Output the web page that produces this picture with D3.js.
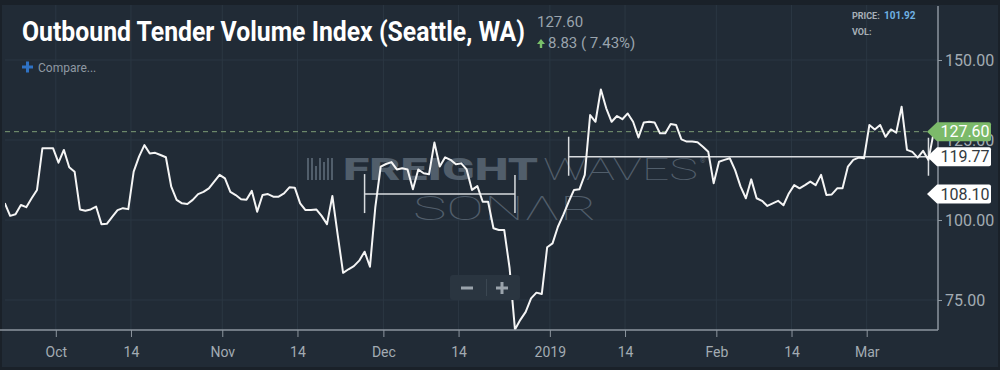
<!DOCTYPE html>
<html>
<head>
<meta charset="utf-8">
<script src="https://cdn.jsdelivr.net/npm/d3@7"></script>
<style>
  html, body { margin: 0; padding: 0; background: #1a2129; }
  svg { display: block; font-family: Roboto, "Noto Sans", sans-serif; }
</style>
</head>
<body>
<div id="chart"></div>
<script>
// daily index values, first one is 2018-09-21
const startDate = "2018-09-21";
const otviValues = [
  105.3, 101.3, 101.8, 104.7, 104.0, 106.8, 109.4, 122.4, 122.4, 122.4,
  // Oct
  117.9, 121.9, 116.5, 115.1, 103.3, 102.9, 103.3, 104.2, 98.7, 98.8,
  101.0, 103.1, 103.7, 103.4, 115.1, 119.8, 123.4, 120.8, 121.0, 120.3,
  119.6, 110.4, 106.3, 105.2, 105.0, 106.3, 108.1, 108.8, 109.9, 112.0, 114.1,
  // Nov
  113.0, 108.8, 107.8, 106.5, 106.3, 109.1, 102.6, 107.8, 108.1, 107.3,
  107.3, 108.3, 110.2, 110.1, 105.2, 103.1, 103.1, 103.3, 101.3, 98.7,
  107.5, 95.3, 83.5, 84.6, 85.6, 87.3, 90.1, 85.4, 104.0, 116.7,
  // Dec
  117.5, 118.1, 115.8, 116.2, 115.8, 109.6, 115.8, 114.6, 114.3, 124.2,
  116.7, 119.6, 118.8, 117.4, 117.7, 115.8, 109.4, 110.6, 105.7, 105.7,
  97.4, 96.9, 96.9, 85.0, 65.8, 68.8, 71.3, 75.5, 77.3, 76.9, 91.5,
  // Jan
  92.7, 97.9, 101.6, 105.7, 109.4, 109.6, 114.1, 132.8, 130.7, 140.8,
  134.9, 130.7, 132.5, 131.5, 133.3, 130.7, 125.8, 130.5, 130.7, 130.5,
  127.1, 127.1, 130.0, 129.7, 125.2, 124.5, 124.5, 124.3, 122.9, 121.3, 111.5,
  // Feb
  118.2, 118.8, 119.3, 115.6, 110.5, 106.8, 112.7, 106.8, 106.0, 104.4,
  105.2, 106.0, 104.6, 108.3, 110.9, 109.9, 110.9, 112.0, 110.9, 114.1,
  107.8, 108.0, 109.9, 109.9, 116.7, 118.8, 119.5, 119.3,
  // Mar
  129.7, 128.3, 129.7, 126.0, 128.3, 127.3, 135.4, 121.9, 121.3, 119.5,
  121.6, 118.77, 127.60
];

const xTickDates = ["2018-10-01", "2018-10-15", "2018-11-01", "2018-11-15", "2018-12-01", "2018-12-15",
  "2019-01-01", "2019-01-15", "2019-02-01", "2019-02-15", "2019-03-01"];
const xTickLabels = ["Oct", "14", "Nov", "14", "Dec", "14", "2019", "14", "Feb", "14", "Mar"];
const yTickValues = [75, 100, 125, 150];

// average lines drawn over a date span
const avgFrom = ["2018-11-27", "2019-01-04"];
const avgTo = ["2018-12-25", "2019-03-12"];
const avgValues = [108.10, 119.77];

const lastValue = 127.60;
const changeValue = 8.83;
const changePct = 7.43;
const hoverPrice = 101.92;
const chartTitle = "Outbound Tender Volume Index (Seattle, WA)";

const width = 1000, height = 370;
const plot = { left: 5, right: 938, top: 5, bottom: 330 };
const bg = "#212b36";
const gridColor = "#2b3743";
const axisColor = "#8d969f";
const labelColor = "#a3abb3";

const parse = d3.utcParse("%Y-%m-%d");
const start = parse(startDate);
// samples sit in the middle of their day
const data = otviValues.map((v, i) => ({
  date: d3.utcHour.offset(d3.utcDay.offset(start, i), 12),
  value: v
}));

const svg = d3.select("#chart").append("svg")
  .attr("width", width).attr("height", height);

svg.append("rect").attr("width", width).attr("height", height).attr("fill", "#1a2129");
svg.append("rect").attr("x", 2).attr("y", 5).attr("width", width - 4).attr("height", height - 8).attr("fill", bg);

const x = d3.scaleUtc()
  .domain([parse("2018-10-01"), parse("2019-03-01")])
  .range([55.8, 866.7]);
const y = d3.scaleLinear().domain([75, 150]).range([300, 60]);

// grid
const grid = svg.append("g");
grid.selectAll(".vg").data(xTickDates).join("line")
  .attr("x1", d => x(parse(d))).attr("x2", d => x(parse(d)))
  .attr("y1", plot.top).attr("y2", plot.bottom)
  .attr("stroke", gridColor).attr("stroke-width", 1);
grid.selectAll(".hg").data(yTickValues).join("line")
  .attr("x1", plot.left).attr("x2", plot.right)
  .attr("y1", d => y(d)).attr("y2", d => y(d))
  .attr("stroke", gridColor).attr("stroke-width", 1);

// watermark
const wm = svg.append("g").attr("fill", "#515e6b");
const barsX = [307, 311, 315, 319, 323, 327, 331];
const barsH = [22, 22, 14, 22, 18, 22, 22];
wm.selectAll("rect").data(barsX).join("rect")
  .attr("x", d => d).attr("y", (d, i) => 180 - barsH[i])
  .attr("width", 2).attr("height", (d, i) => barsH[i]);
wm.append("text").attr("x", 343).attr("y", 180)
  .attr("font-size", 31).attr("font-weight", 900)
  .attr("textLength", 195).attr("lengthAdjust", "spacingAndGlyphs").text("FREIGHT");
wm.append("text").attr("x", 543).attr("y", 180)
  .attr("font-size", 31).attr("font-weight", 100)
  .attr("textLength", 155).attr("lengthAdjust", "spacingAndGlyphs").text("WAVES");
wm.append("text").attr("x", 700).attr("y", 163).attr("font-size", 7).text("®");
wm.append("text").attr("x", 413).attr("y", 220)
  .attr("font-size", 34).attr("font-weight", 100)
  .attr("textLength", 184).attr("lengthAdjust", "spacingAndGlyphs").text("SONΛR");

// dashed last value line
svg.append("line")
  .attr("x1", plot.left).attr("x2", 927)
  .attr("y1", y(lastValue)).attr("y2", y(lastValue))
  .attr("stroke", "#7d9b76").attr("stroke-width", 1).attr("stroke-dasharray", "5,4");

// average lines
const avg = svg.append("g").attr("stroke", "#d9dcdf").attr("stroke-width", 1.5);
avgValues.forEach((v, i) => {
  const x1 = x(d3.utcHour.offset(parse(avgFrom[i]), 12));
  const x2 = x(d3.utcHour.offset(parse(avgTo[i]), 12));
  avg.append("line").attr("x1", x1).attr("x2", x2).attr("y1", y(v)).attr("y2", y(v));
  avg.append("line").attr("x1", x1).attr("x2", x1).attr("y1", y(v) - 20).attr("y2", y(v) + 19);
  avg.append("line").attr("x1", x2).attr("x2", x2).attr("y1", y(v) - 19).attr("y2", y(v) + 19);
});

// line
svg.append("clipPath").attr("id", "plotClip").append("rect")
  .attr("x", plot.left).attr("y", plot.top)
  .attr("width", plot.right - plot.left).attr("height", plot.bottom - plot.top);
svg.append("path").datum(data)
  .attr("clip-path", "url(#plotClip)")
  .attr("fill", "none").attr("stroke", "#f5f5f5").attr("stroke-width", 2)
  .attr("stroke-linejoin", "round")
  .attr("d", d3.line().x(d => x(d.date)).y(d => y(d.value)));

// bottom axis
const xAxis = svg.append("g").attr("transform", `translate(0,${plot.bottom})`)
  .call(d3.axisBottom(x)
    .tickValues(xTickDates.map(parse))
    .tickFormat((d, i) => xTickLabels[i])
    .tickSizeInner(7).tickSizeOuter(0).tickPadding(10));
xAxis.select(".domain").remove();
xAxis.append("line").attr("x1", 0).attr("x2", plot.right).attr("y1", 0).attr("y2", 0)
  .attr("stroke", axisColor).attr("stroke-width", 1.5);
xAxis.selectAll(".tick line").attr("stroke", axisColor);
xAxis.selectAll(".tick text").attr("fill", labelColor).attr("font-size", 14)
  .attr("font-family", "Roboto, sans-serif");

// right axis
const yAxis = svg.append("g").attr("transform", `translate(${plot.right},0)`)
  .call(d3.axisRight(y).tickValues(yTickValues).tickFormat(d3.format(".2f"))
    .tickSizeInner(4).tickSizeOuter(0).tickPadding(3));
yAxis.select(".domain").remove();
yAxis.append("line").attr("x1", 0).attr("x2", 0).attr("y1", 6).attr("y2", plot.bottom)
  .attr("stroke", axisColor).attr("stroke-width", 1.5);
yAxis.selectAll(".tick line").attr("stroke", axisColor);
yAxis.selectAll(".tick text").attr("fill", labelColor).attr("font-size", 16)
  .attr("font-family", "Roboto, sans-serif");

// value tags on the right
function tag(v, fill, textFill) {
  const cy = y(v);
  const tip = 927, right = 991, h = 9.5;
  svg.append("path")
    .attr("d", `M${tip},${cy} L${tip + 10},${cy - h} L${right - 2},${cy - h} Q${right},${cy - h} ${right},${cy - h + 2} L${right},${cy + h - 2} Q${right},${cy + h} ${right - 2},${cy + h} L${tip + 10},${cy + h} Z`)
    .attr("fill", fill);
  svg.append("text").attr("x", 965).attr("y", cy + 5.5)
    .attr("text-anchor", "middle").attr("font-size", 16).attr("fill", textFill)
    .text(d3.format(".2f")(v));
}
tag(lastValue, "#7cba6a", "#ffffff");
tag(avgValues[1], "#ffffff", "#333a40");
tag(avgValues[0], "#ffffff", "#333a40");

// zoom buttons
const zb = svg.append("g");
zb.append("rect").attr("x", 450).attr("y", 275).attr("width", 70).attr("height", 25)
  .attr("rx", 3).attr("fill", "#2a3540");
zb.append("line").attr("x1", 486.5).attr("x2", 486.5).attr("y1", 279).attr("y2", 296)
  .attr("stroke", "#3b4752");
zb.append("rect").attr("x", 461).attr("y", 286.5).attr("width", 12).attr("height", 3).attr("fill", "#9aa3ab");
zb.append("rect").attr("x", 496).attr("y", 286.5).attr("width", 12).attr("height", 3).attr("fill", "#9aa3ab");
zb.append("rect").attr("x", 500.5).attr("y", 282).attr("width", 3).attr("height", 12).attr("fill", "#9aa3ab");

// header: title squeezed to the condensed width of the original
const titleG = svg.append("g");
const title = titleG.append("text")
  .attr("font-size", 28).attr("font-weight", 700).attr("fill", "#ffffff")
  .text(chartTitle);
const titleW = title.node().getComputedTextLength();
titleG.attr("transform", `translate(22,41) scale(${503 / titleW},1)`);

svg.append("text").attr("x", 537).attr("y", 27)
  .attr("font-size", 15).attr("fill", "#9aa4ad").text(d3.format(".2f")(lastValue));
svg.append("path").attr("d", "M537,44 L541,39 L545,44 Z M539.8,44 L539.8,48 L542.2,48 L542.2,44 Z")
  .attr("fill", "#79c06a");
svg.append("text").attr("x", 548).attr("y", 48)
  .attr("font-size", 15).attr("fill", "#9aa4ad")
  .text(`${d3.format(".2f")(changeValue)} ( ${d3.format(".2f")(changePct)}%)`);

svg.append("path").attr("d", "M22,67 h11 M27.5,61.5 v11")
  .attr("stroke", "#2f72c4").attr("stroke-width", 3);
svg.append("text").attr("x", 38).attr("y", 72)
  .attr("font-size", 12).attr("fill", "#8f99a3").text("Compare...");

svg.append("text").attr("x", 852).attr("y", 19)
  .attr("font-size", 9).attr("font-weight", 700).attr("fill", "#a8b0b8").text("PRICE:");
svg.append("text").attr("x", 884).attr("y", 19)
  .attr("font-size", 10).attr("font-weight", 700).attr("fill", "#6fb1e2").text(d3.format(".2f")(hoverPrice));
svg.append("text").attr("x", 852).attr("y", 35)
  .attr("font-size", 9).attr("font-weight", 700).attr("fill", "#a8b0b8").text("VOL:");
</script>
</body>
</html>
